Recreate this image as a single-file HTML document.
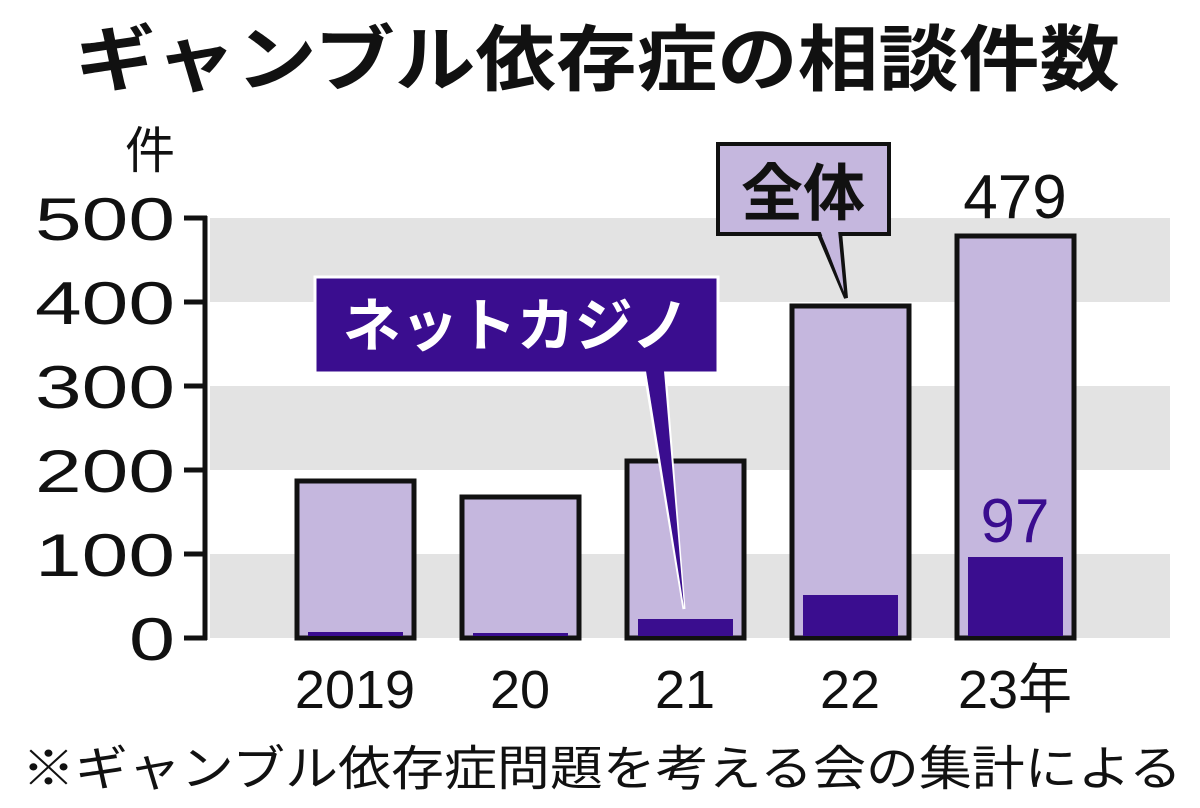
<!DOCTYPE html>
<html><head><meta charset="utf-8"><style>
html,body{margin:0;padding:0;background:#fff;}
svg{display:block;}
text{font-family:"Liberation Sans","Noto Sans CJK JP",sans-serif;}
</style></head><body>
<svg width="1200" height="808" viewBox="0 0 1200 808" xmlns="http://www.w3.org/2000/svg">
<rect width="1200" height="808" fill="#fff"/>
<text x="75" y="85" font-size="72" font-weight="bold" fill="#111" textLength="1045" lengthAdjust="spacingAndGlyphs">ギャンブル依存症の相談件数</text>
<text x="150" y="168" text-anchor="middle" font-size="50" fill="#111">件</text>
<!-- bands -->
<rect x="210" y="218" width="960" height="84" fill="#e3e3e3"/>
<rect x="210" y="386" width="960" height="84" fill="#e3e3e3"/>
<rect x="210" y="554" width="960" height="84" fill="#e3e3e3"/>
<!-- axis -->
<g stroke="#111" stroke-width="5" fill="none">
<line x1="205" y1="216" x2="205" y2="640"/>
<line x1="184" y1="218" x2="207" y2="218"/>
<line x1="184" y1="302" x2="207" y2="302"/>
<line x1="184" y1="386" x2="207" y2="386"/>
<line x1="184" y1="470" x2="207" y2="470"/>
<line x1="184" y1="554" x2="207" y2="554"/>
<line x1="184" y1="638" x2="207" y2="638"/>
</g>
<g font-size="60" fill="#111">
<text x="35" y="240" textLength="140" lengthAdjust="spacingAndGlyphs">500</text>
<text x="35" y="324" textLength="140" lengthAdjust="spacingAndGlyphs">400</text>
<text x="35" y="408" textLength="140" lengthAdjust="spacingAndGlyphs">300</text>
<text x="35" y="492" textLength="140" lengthAdjust="spacingAndGlyphs">200</text>
<text x="35" y="576" textLength="140" lengthAdjust="spacingAndGlyphs">100</text>
<text x="129" y="660" textLength="46" lengthAdjust="spacingAndGlyphs">0</text>
</g>
<!-- bars -->
<g fill="#c5b7de" stroke="#111" stroke-width="5">
<rect x="297" y="481" width="117" height="157"/>
<rect x="462" y="497" width="117" height="141"/>
<rect x="627" y="461" width="117" height="177"/>
<rect x="792" y="306" width="117" height="332"/>
<rect x="957" y="236" width="117" height="402"/>
</g>
<g fill="#3a0d8f">
<rect x="308" y="632" width="95" height="4"/>
<rect x="473" y="633" width="95" height="3"/>
<rect x="638" y="619" width="95" height="17"/>
<rect x="803" y="595" width="95" height="41"/>
<rect x="968" y="557" width="95" height="79"/>
</g>
<text x="1015" y="542" text-anchor="middle" font-size="62" fill="#3a0d8f">97</text>
<text x="1015" y="218" text-anchor="middle" font-size="62" fill="#111">479</text>
<!-- callout net casino -->
<polygon points="645,373 665,373 684,609" fill="#3a0d8f" stroke="#fff" stroke-width="3"/>
<rect x="315" y="277" width="403" height="96" fill="#3a0d8f" stroke="#fff" stroke-width="3"/>
<polygon points="646,371 664,371 684,607" fill="#3a0d8f"/>
<text x="516" y="346" text-anchor="middle" font-size="58" font-weight="bold" fill="#fff">ネットカジノ</text>
<!-- callout total -->
<polygon points="818,232 840,232 846,298" fill="#c5b7de" stroke="#111" stroke-width="4"/>
<rect x="718" y="144" width="171" height="90" fill="#c5b7de" stroke="#111" stroke-width="4"/>
<polygon points="820,230 838,230 844,292" fill="#c5b7de"/>
<text x="803" y="215" text-anchor="middle" font-size="62" font-weight="bold" fill="#111">全体</text>
<!-- x labels -->
<g font-size="54" fill="#111" text-anchor="middle">
<text x="355" y="708">2019</text>
<text x="520" y="708">20</text>
<text x="685" y="708">21</text>
<text x="850" y="708">22</text>
<text x="1015" y="708">23年</text>
</g>
<text x="22" y="785" font-size="48" fill="#111" textLength="1160" lengthAdjust="spacingAndGlyphs">※ギャンブル依存症問題を考える会の集計による</text>
</svg>
</body></html>
